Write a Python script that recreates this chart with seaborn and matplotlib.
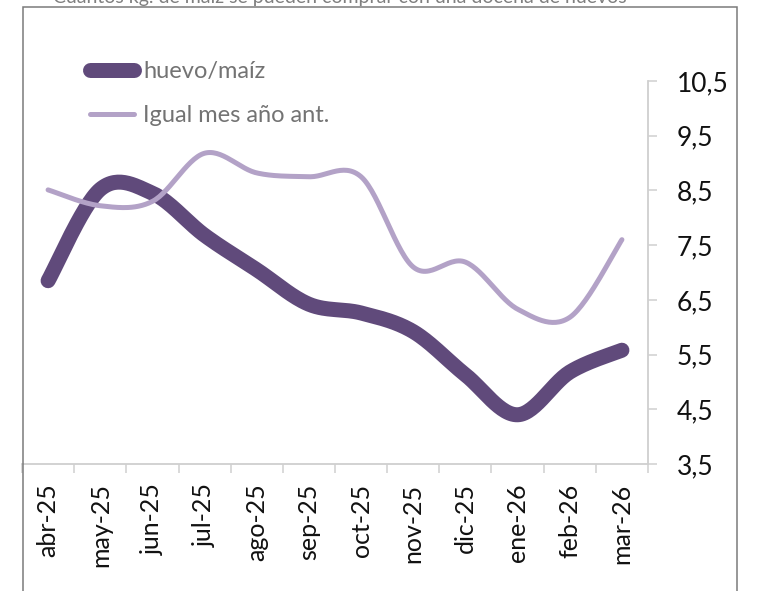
import numpy as np
import pandas as pd
import matplotlib
matplotlib.use("Agg")
import matplotlib.pyplot as plt
from matplotlib.patches import Rectangle
from matplotlib.ticker import FixedLocator, NullFormatter
import seaborn as sns

# ---- datos ----
meses = ["abr-25", "may-25", "jun-25", "jul-25", "ago-25", "sep-25",
         "oct-25", "nov-25", "dic-25", "ene-26", "feb-26", "mar-26"]
huevo_maiz = [6.85, 8.52, 8.45, 7.68, 7.05, 6.42, 6.26, 5.92, 5.13, 4.40, 5.18, 5.58]
igual_mes_ant = [8.51, 8.22, 8.30, 9.18, 8.82, 8.75, 8.75, 7.10, 7.19, 6.33, 6.18, 7.60]
nombres = ["huevo/maíz", "Igual mes año ant."]
y_ticks = [3.5, 4.5, 5.5, 6.5, 7.5, 8.5, 9.5, 10.5]
y_labels = ["3,5", "4,5", "5,5", "6,5", "7,5", "8,5", "9,5", "10,5"]
titulo = "Cuántos kg. de maíz se pueden comprar con una docena de huevos"

colores = ["#604A7B", "#B3A2C7"]
grosores = [10.8, 3.6]


def suavizar(valores, n=30):
    """Curva Bezier suave (estilo línea suavizada de hoja de cálculo) que pasa por cada punto."""
    y = np.asarray(valores, float)
    x = np.arange(len(y), dtype=float)
    P = np.column_stack([x, y])
    out = []
    for i in range(len(P) - 1):
        i0 = max(i - 1, 0)
        i3 = min(i + 2, len(P) - 1)
        p0, p3 = P[i], P[i + 1]
        c1 = p0 + (P[i + 1] - P[i0]) / 6.0
        c2 = p3 - (P[i3] - P[i]) / 6.0
        t = np.linspace(0, 1, n, endpoint=(i == len(P) - 2))[:, None]
        seg = ((1 - t) ** 3) * p0 + 3 * ((1 - t) ** 2) * t * c1 \
            + 3 * (1 - t) * t ** 2 * c2 + t ** 3 * p3
        out.append(seg)
    return np.vstack(out)


sns.set_theme(style="white")
plt.rcParams["font.family"] = ["Lato", "DejaVu Sans"]

W, H = 761, 591
fig = plt.figure(figsize=(W / 100, H / 100), dpi=100)
ax = fig.add_axes([22 / W, (H - 464) / H, (648 - 22) / W, (464 - 81) / H])

for vals, nombre, col, lw in zip([huevo_maiz, igual_mes_ant], nombres, colores, grosores):
    curva = suavizar(vals)
    df = pd.DataFrame({"pos": curva[:, 0], "valor": curva[:, 1]})
    sns.lineplot(data=df, x="pos", y="valor", sort=False, color=col,
                 linewidth=lw, label=nombre, ax=ax,
                 solid_capstyle="round", solid_joinstyle="round")

# ejes
gris_eje = "#CFCFCF"
ax.set_xlim(-0.5, len(meses) - 0.5)
ax.set_ylim(3.5, 10.5)
ax.set_xlabel("")
ax.set_ylabel("")
for lado in ["top", "left"]:
    ax.spines[lado].set_visible(False)
for lado in ["right", "bottom"]:
    ax.spines[lado].set_visible(True)
    ax.spines[lado].set_color(gris_eje)
    ax.spines[lado].set_linewidth(1.3)

ax.yaxis.tick_right()
ax.set_yticks(y_ticks)
ax.set_yticklabels(y_labels)
ax.tick_params(axis="y", which="major", direction="out", length=6.5, width=1.1,
               color=gris_eje, pad=14, labelsize=19, labelcolor="#111111", right=True, left=False)

ax.set_xticks(range(len(meses)))
ax.set_xticklabels(meses, rotation=90)
ax.xaxis.set_minor_locator(FixedLocator(np.arange(-0.5, len(meses), 1.0)))
ax.xaxis.set_minor_formatter(NullFormatter())
ax.tick_params(axis="x", which="major", length=0, pad=14, labelsize=18, labelcolor="#111111")
ax.tick_params(axis="x", which="minor", direction="out", length=6.5, width=1.1,
               color=gris_eje, bottom=True)
ax.grid(False)

# leyenda
leg = ax.legend(loc="upper left", bbox_to_anchor=(90 / W, (H - 61) / H),
                bbox_transform=fig.transFigure, frameon=False, fontsize=17,
                handlelength=1.86, handletextpad=0.38, labelspacing=0.98,
                borderpad=0, borderaxespad=0)
for txt in leg.get_texts():
    txt.set_color("#737373")
for h in leg.get_lines():
    h.set_solid_capstyle("round")

# marco y título
fig.patches.append(Rectangle((22.5 / W, -0.2), (737 - 22.5) / W, 0.2 + (H - 7) / H,
                             transform=fig.transFigure, fill=False,
                             edgecolor="#7A7A7A", linewidth=1.1, zorder=0))
fig.text(340 / W, (H - 3) / H, titulo, ha="center", va="baseline",
         fontsize=14, color="#7F7F7F")

fig.savefig("out.png", dpi=100)
